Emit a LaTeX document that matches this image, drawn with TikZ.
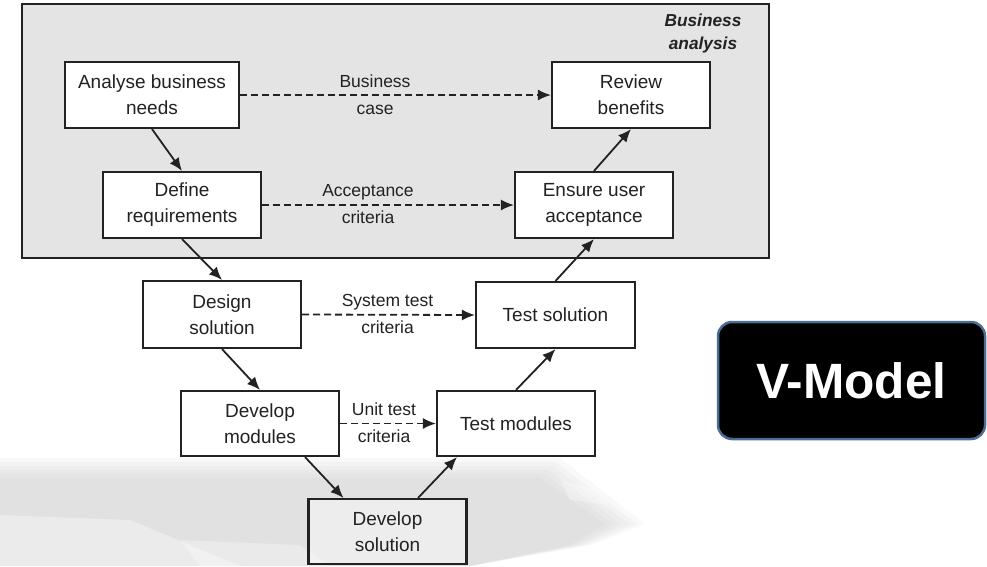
\documentclass[tikz,border=0pt]{standalone}
\usepackage{fontspec}
\setmainfont{Liberation Sans}
\usetikzlibrary{arrows.meta}
\definecolor{ink}{HTML}{222222}
\definecolor{panel}{HTML}{E4E4E4}
\definecolor{vborder}{HTML}{4A6E94}
\begin{document}
\begin{tikzpicture}[x=1pt,y=-1pt,
  stepbox/.style={draw=ink,line width=2.1pt,fill=white,inner sep=0pt,align=center,
    minimum width=158pt,minimum height=66pt,text=ink,
    font=\fontsize{19}{26}\selectfont},
  flow/.style={draw=ink,line width=1.8pt,-{Latex[length=13pt,width=11pt]}},
  dflow/.style={draw=ink,line width=1.8pt,dash pattern=on 7pt off 4pt,-{Latex[length=13pt,width=11pt]}},
  lbl/.style={align=center,text=ink,inner sep=0pt,font=\fontsize{17.5}{27}\selectfont}]
\useasboundingbox (0,0) rectangle (987,566);
\fill[white] (0,0) rectangle (987,566);
% faded background smudge (soft layered)
\foreach \d in {0,4,8,12,16,20}{
  \fill[gray!60,opacity=0.07] (0,458+\d) -- (560-\d,458+\d) -- (645-2*\d,524) -- (590-\d,545) -- (470,566) -- (0,566) -- cycle;
}
\fill[white,opacity=0.35] (0,515) -- (130,520) -- (240,566) -- (0,566) -- cycle;
\fill[white,opacity=0.3] (180,540) -- (300,545) -- (330,566) -- (200,566) -- cycle;
\fill[white,opacity=0.3] (560,480) -- (600,490) -- (610,505) -- (570,500) -- cycle;
% business analysis panel
\draw[draw=ink,line width=2.1pt,fill=panel] (22,4) rectangle (769,258);
\node[lbl,font=\fontsize{17.3}{23}\selectfont\bfseries\itshape] (ba) at (703,33.5) {Business\\analysis};
% boxes
\node[stepbox,minimum width=174pt] (A) at (152,95) {Analyse business\\needs};
\node[stepbox] (R) at (631,95) {Review\\benefits};
\node[stepbox] (D) at (182,205) {Define\\requirements};
\node[stepbox] (E) at (594,205) {Ensure user\\acceptance};
\node[stepbox,minimum height=67pt] (DS) at (222,314.5) {Design\\solution};
\node[stepbox,minimum width=159pt] (TS) at (555.5,315) {Test solution};
\node[stepbox,minimum height=65pt] (DM) at (260,423.5) {Develop\\modules};
\node[stepbox,minimum height=65pt] (TM) at (516,423.5) {Test modules};
\node[stepbox,minimum height=65pt,fill=white,fill opacity=0.4,text opacity=1] (DV) at (387.5,531.5) {Develop\\solution};
% solid flow
\draw[flow] (A.south) -- (D.north);
\draw[flow] (D.south) -- (DS.north);
\draw[flow] (DS.south) -- (DM.north);
\draw[flow] ([xshift=45pt]DM.south) -- ([xshift=-44pt]DV.north);
\draw[flow] ([xshift=30.5pt]DV.north) -- ([xshift=-59pt]TM.south);
\draw[flow] (TM.north) -- (TS.south);
\draw[flow] (TS.north) -- (E.south);
\draw[flow] (E.north) -- (R.south);
% dashed links
\draw[dflow] (A.east) -- (R.west);
\draw[dflow] (D.east) -- (E.west);
\draw[dflow] (DS.east) -- (TS.west);
\draw[dflow] (DM.east) -- (TM.west);
\node[lbl] (l1) at (375,95) {Business\\case};
\node[lbl] (l2) at (368,204) {Acceptance\\criteria};
\node[lbl] (l3) at (387.5,313.5) {System test\\criteria};
\node[lbl] (l4) at (384,422.5) {Unit test\\criteria};
% V-Model badge
\node[draw=vborder,line width=2.5pt,fill=black,rounded corners=14pt,
  minimum width=267pt,minimum height=117pt,inner sep=0pt,text=white,
  font=\fontsize{49.6}{55}\selectfont\bfseries] (vm) at (851.5,380.5) {V-Model};
\end{tikzpicture}
\end{document}
